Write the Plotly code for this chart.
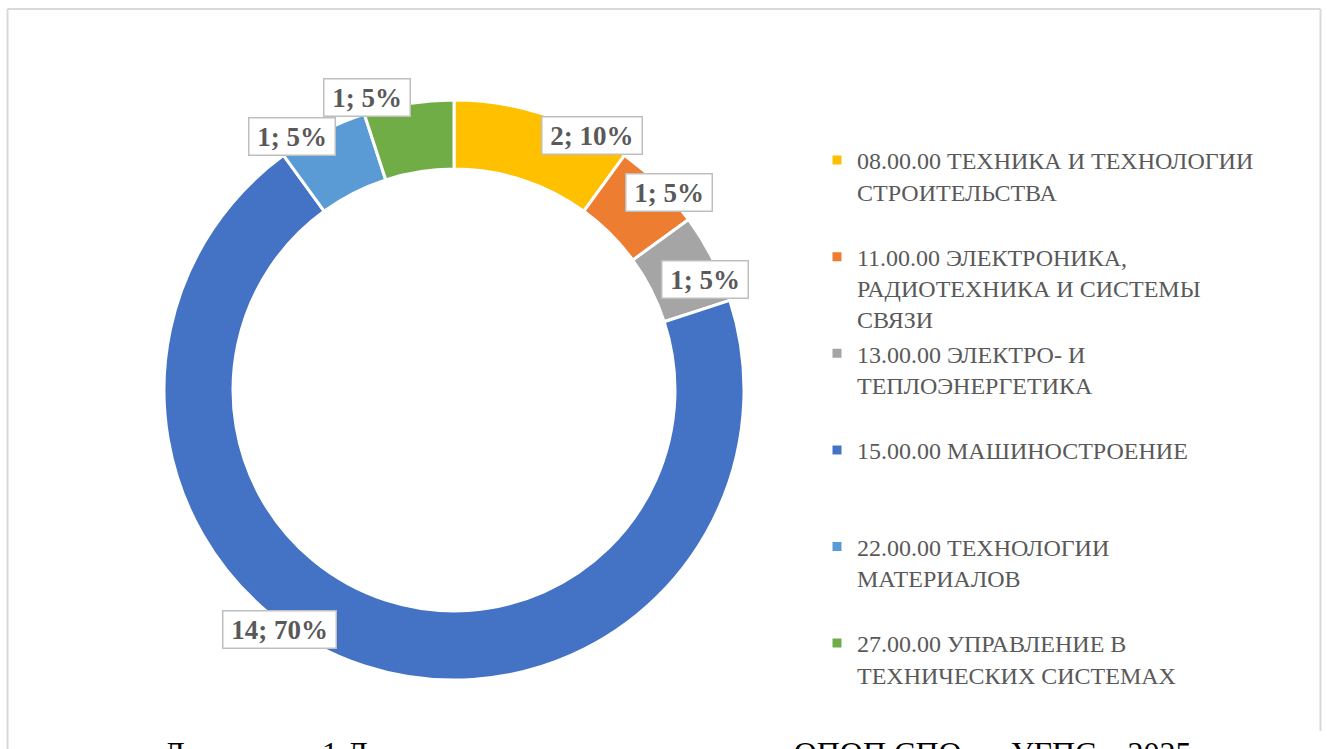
import math
import plotly.graph_objects as go

# ---- data ----
categories = [
    "08.00.00 ТЕХНИКА И ТЕХНОЛОГИИ<br>СТРОИТЕЛЬСТВА",
    "11.00.00 ЭЛЕКТРОНИКА,<br>РАДИОТЕХНИКА И СИСТЕМЫ<br>СВЯЗИ",
    "13.00.00 ЭЛЕКТРО- И<br>ТЕПЛОЭНЕРГЕТИКА",
    "15.00.00 МАШИНОСТРОЕНИЕ",
    "22.00.00 ТЕХНОЛОГИИ<br>МАТЕРИАЛОВ",
    "27.00.00 УПРАВЛЕНИЕ В<br>ТЕХНИЧЕСКИХ СИСТЕМАХ",
]
counts = [2, 1, 1, 14, 1, 1]
colors = ["#FFC000", "#ED7D31", "#A5A5A5", "#4472C4", "#5B9BD5", "#70AD47"]
caption = "Диаграмма 1 Доля и количество реализуемых ОПОП СПО по УГПС в 2025 году"

# ---- layout constants (pixels) ----
W, H = 1327, 749
PIE_CX, PIE_CY, PIE_R = 454, 390, 290
HOLE = 0.762
FONT = "Liberation Serif, Times New Roman, serif"
GREY = "#595959"

# label nudges (px, screen coords: +x right, +y down) to mimic Excel best-fit placement
label_nudges = [(48, 21), (10, 8), (-7, 21), (-85, -36), (-30, 5), (-42, -6)]

# pad legend names to 3 lines so entries are evenly spaced
legend_names = []
for c in categories:
    n = c.count("<br>") + 1
    legend_names.append(c + "<br>\u00a0" * (3 - n))

fig = go.Figure()
fig.add_trace(go.Pie(
    labels=legend_names,
    values=counts,
    sort=False,
    direction="clockwise",
    rotation=0,
    hole=HOLE,
    marker=dict(colors=colors, line=dict(color="white", width=3)),
    textinfo="none",
    hoverinfo="label+value+percent",
    domain=dict(
        x=[(PIE_CX - PIE_R) / W, (PIE_CX + PIE_R) / W],
        y=[1 - (PIE_CY + PIE_R) / H, 1 - (PIE_CY - PIE_R) / H],
    ),
))

total = sum(counts)
cum = 0
annotations = []
for v, (dx, dy) in zip(counts, label_nudges):
    theta = math.radians(360 * (cum + v / 2) / total)
    cum += v
    px = PIE_CX + PIE_R * math.sin(theta)
    py = PIE_CY - PIE_R * math.cos(theta)
    pct = round(100 * v / total)
    annotations.append(dict(
        x=px / W, y=1 - py / H, xref="paper", yref="paper",
        xshift=dx, yshift=-dy,
        text=f"\u00a0<b>{v}; {pct}%</b>\u00a0",
        showarrow=False,
        font=dict(family=FONT, size=27, color=GREY),
        bgcolor="white", bordercolor="#BFBFBF", borderwidth=1.5, borderpad=1,
        height=34,
        xanchor="center", yanchor="middle",
    ))

annotations.append(dict(
    x=161 / W, y=1 - 733 / H, xref="paper", yref="paper",
    text=caption, showarrow=False, xanchor="left", yanchor="top",
    font=dict(family=FONT, size=32, color="black"),
))

shapes = [
    dict(type="line", xref="paper", yref="paper", x0=7.5 / W, x1=7.5 / W, y0=1 - 9 / H, y1=-0.05,
         line=dict(color="#D9D9D9", width=2)),
    dict(type="line", xref="paper", yref="paper", x0=7.5 / W, x1=1320.5 / W, y0=1 - 9 / H, y1=1 - 9 / H,
         line=dict(color="#D9D9D9", width=2)),
    dict(type="line", xref="paper", yref="paper", x0=1320.5 / W, x1=1320.5 / W, y0=1 - 9 / H, y1=1 - 731 / H,
         line=dict(color="#D9D9D9", width=2)),
]

fig.update_layout(
    width=W, height=H,
    margin=dict(l=0, r=0, t=0, b=0),
    paper_bgcolor="white",
    plot_bgcolor="white",
    showlegend=True,
    legend=dict(
        x=817 / W, y=1 - 138 / H, xanchor="left", yanchor="top",
        font=dict(family=FONT, size=24, color=GREY),
        valign="top", bgcolor="rgba(0,0,0,0)", itemclick=False, itemdoubleclick=False,
    ),
    annotations=annotations,
    shapes=shapes,
)

fig.write_html(
    "out.html",
    config={"displayModeBar": False},
    post_script="document.body.style.margin='0';document.body.style.overflow='hidden';",
)
